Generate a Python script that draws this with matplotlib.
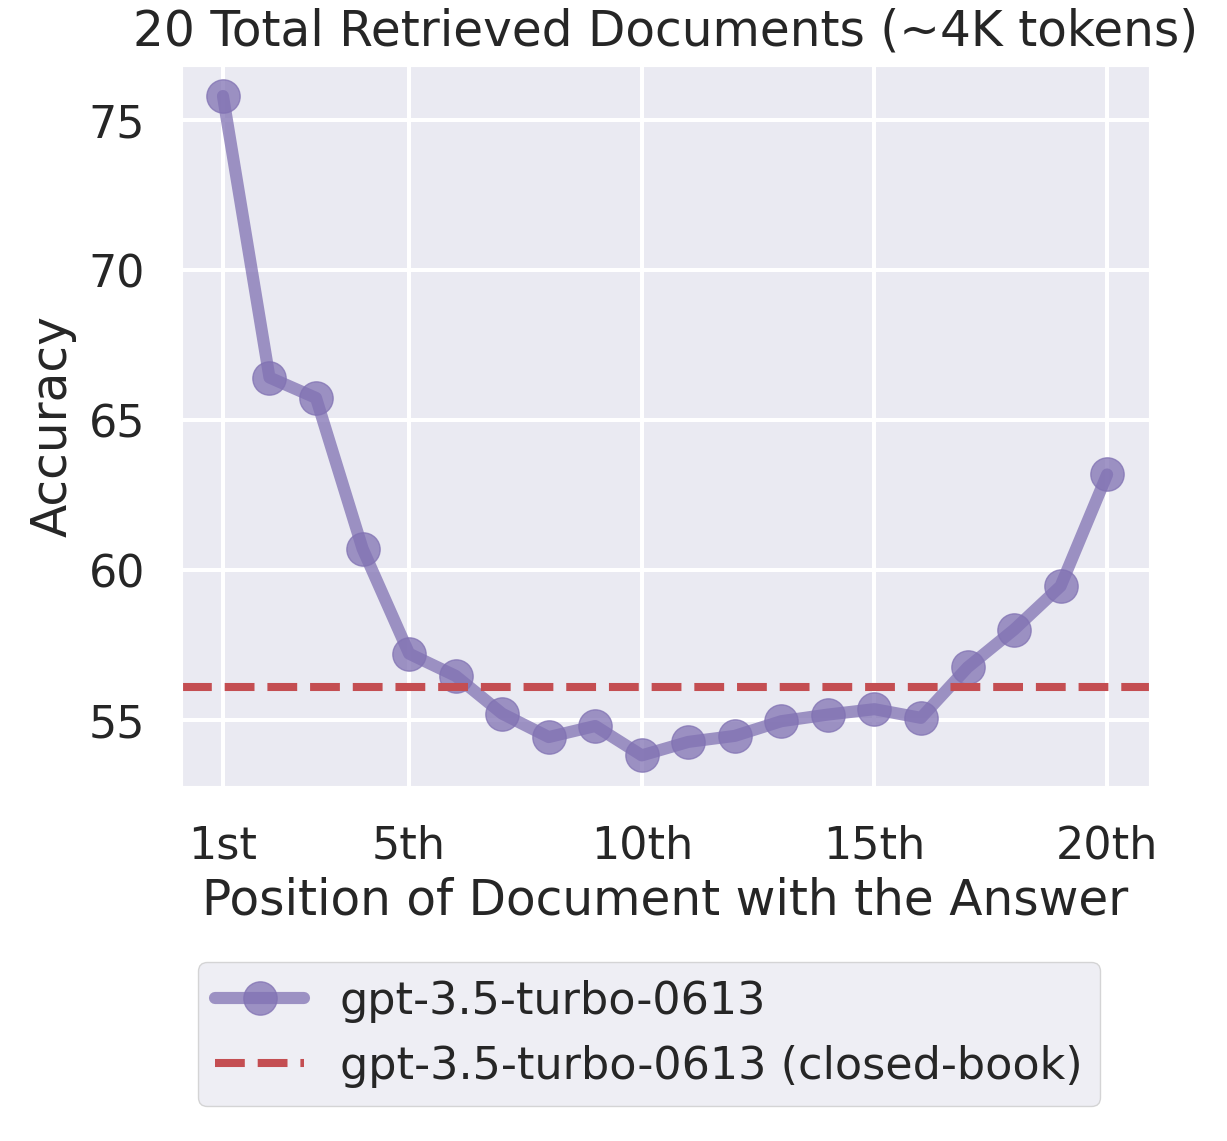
import numpy as np
import matplotlib
matplotlib.use("Agg")
import matplotlib.pyplot as plt
import seaborn as sns

# position of the gold document (1..20) and accuracy
positions = np.arange(1, 21)
accuracy = [75.8, 66.42, 65.74, 60.72, 57.22, 56.48, 55.22, 54.44, 54.81, 53.83,
            54.28, 54.48, 54.97, 55.19, 55.37, 55.08, 56.76, 58.02, 59.47, 63.19]
closed_book = 56.11
tick_pos = [1, 5, 10, 15, 20]
tick_labels = ["1st", "5th", "10th", "15th", "20th"]
y_ticks = [55, 60, 65, 70, 75]

sns.set_style("darkgrid")
plt.rcParams['font.family'] = ['DejaVu Sans']
plt.rcParams['grid.linewidth'] = 2.9

W, H = 1227, 1141
fig = plt.figure(figsize=(W / 100, H / 100), dpi=100)
ax = fig.add_axes([182 / W, 1 - 786 / H, (1149 - 182) / W, (786 - 66) / H])

ax.plot(positions, accuracy, marker='o', color='#8172B3', alpha=0.75,
        lw=8.75, ms=24, solid_capstyle='round', label='gpt-3.5-turbo-0613')
ax.axhline(closed_book, color='#C44E52', ls='--', lw=5.8,
           label='gpt-3.5-turbo-0613 (closed-book)')

ax.set_xticks(tick_pos, tick_labels)
ax.set_yticks(y_ticks)
ax.set_xlim(0.12, 20.9)
ax.set_ylim(52.81, 76.8)
ax.tick_params(axis='x', labelsize=32, pad=24)
ax.tick_params(axis='y', labelsize=32, pad=23)

ax.set_xlabel("Position of Document with the Answer", fontsize=35, labelpad=7)
ax.set_ylabel("Accuracy", fontsize=35, labelpad=9)
ax.set_title("20 Total Retrieved Documents (~4K tokens)", fontsize=35, pad=15)

ax.legend(loc='upper center', bbox_to_anchor=(649 / W, 1 - 962 / H),
          bbox_transform=fig.transFigure, borderaxespad=0, fontsize=32,
          framealpha=0.8, edgecolor='0.8')

fig.savefig("out.png", dpi=100)
